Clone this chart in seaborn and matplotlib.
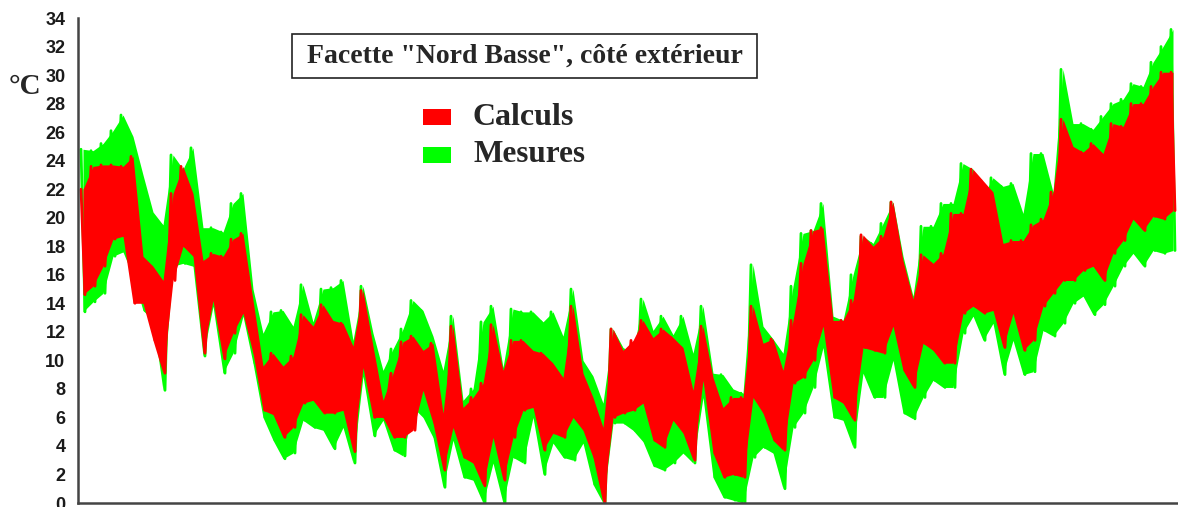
import numpy as np
import pandas as pd
import matplotlib
matplotlib.use("Agg")
import matplotlib.pyplot as plt
from matplotlib.patches import Rectangle
import seaborn as sns

# envelope of each ~3 day block (high / low)
mesures_hi = [24.8, 24.7, 25.2, 26.1, 27.2, 25.7, 23.0, 20.4, 19.5, 24.4,
              23.4, 24.9, 19.3, 19.3, 19.0, 21.0, 21.7, 15.0, 11.9, 13.4,
              13.5, 12.4, 15.3, 12.7, 15.0, 15.1, 15.6, 11.4, 15.2, 11.9,
              9.3, 10.8, 12.2, 14.2, 13.5, 11.7, 9.3, 13.1, 7.2, 8.0,
              12.7, 13.8, 9.5, 13.6, 13.4, 13.4, 12.7, 13.4, 11.7, 15.0,
              10.0, 8.9, 7.0, 12.2, 10.9, 10.5, 14.3, 12.1, 13.1, 11.8,
              13.1, 10.5, 13.8, 9.1, 9.0, 8.0, 7.7, 16.7, 12.4, 11.5,
              10.5, 15.2, 18.9, 19.1, 21.0, 13.1, 12.8, 16.0, 18.7, 18.2,
              19.6, 21.1, 17.3, 14.5, 19.4, 19.4, 21.0, 21.0, 23.8, 23.4,
              21.5, 22.8, 22.2, 22.4, 20.3, 24.5, 24.5, 21.8, 30.4, 26.6,
              26.6, 26.2, 27.1, 28.0, 28.3, 29.4, 29.2, 30.9, 32.0, 33.2]
mesures_lo = [13.4, 14.1, 14.7, 17.3, 17.6, 15.9, 13.5, 12.8, 7.9, 16.6,
              16.8, 16.6, 10.3, 13.8, 9.1, 10.5, 13.1, 9.8, 6.0, 4.4,
              3.1, 3.5, 5.8, 5.3, 5.1, 3.8, 5.3, 2.8, 8.9, 4.7,
              5.8, 3.7, 3.3, 6.7, 6.0, 4.6, 1.1, 4.4, 1.8, 1.6,
              0.0, 2.8, 0.0, 3.2, 2.8, 6.0, 2.0, 4.2, 3.2, 3.0,
              4.2, 1.3, 0.0, 5.6, 5.6, 5.1, 4.3, 2.6, 2.3, 2.8,
              3.5, 2.8, 7.4, 1.8, 0.4, 0.2, 0.0, 3.2, 3.9, 3.5,
              1.0, 5.3, 6.3, 8.1, 10.9, 6.0, 5.8, 3.9, 9.1, 7.4,
              7.4, 10.0, 6.3, 5.9, 7.4, 8.6, 8.1, 8.1, 11.9, 13.1,
              11.4, 12.6, 9.0, 11.4, 9.0, 9.2, 12.1, 11.7, 12.6, 14.0,
              14.5, 13.2, 13.9, 15.2, 16.6, 17.5, 16.6, 17.7, 17.5, 17.7]
calculs_hi = [22.0, 23.6, 23.7, 23.7, 23.6, 24.3, 17.3, 16.6, 15.6, 21.7,
              23.6, 21.7, 17.0, 17.5, 17.3, 18.5, 18.9, 14.2, 9.6, 10.5,
              9.6, 10.3, 13.2, 12.4, 13.9, 12.8, 12.6, 11.0, 14.9, 11.0,
              7.2, 9.1, 11.3, 11.7, 10.7, 11.2, 6.3, 12.4, 6.7, 7.4,
              8.4, 12.5, 9.3, 11.4, 11.4, 10.7, 10.5, 9.8, 8.8, 13.8,
              9.1, 7.4, 5.3, 12.2, 10.7, 11.4, 12.8, 11.6, 12.2, 11.6,
              10.9, 7.9, 12.4, 8.8, 6.7, 7.4, 7.4, 13.8, 11.2, 11.5,
              9.3, 12.8, 16.8, 19.1, 19.3, 12.8, 12.8, 14.2, 18.8, 18.0,
              18.7, 21.1, 17.0, 14.3, 17.4, 16.8, 17.5, 20.3, 20.3, 23.4,
              22.6, 21.8, 18.2, 18.4, 18.4, 19.5, 19.9, 21.8, 26.9, 25.0,
              24.6, 25.2, 24.5, 26.6, 26.4, 28.0, 28.0, 29.2, 30.2, 30.2]
calculs_lo = [14.6, 15.2, 16.6, 18.5, 18.7, 14.0, 14.0, 11.4, 9.1, 15.6,
              18.0, 17.3, 10.5, 14.2, 10.1, 11.9, 13.3, 10.5, 6.5, 6.2,
              4.6, 5.3, 7.0, 7.2, 6.3, 6.3, 6.5, 3.6, 9.5, 6.0,
              6.0, 4.6, 4.6, 5.1, 7.9, 5.6, 2.3, 5.3, 3.2, 2.8,
              1.2, 4.6, 1.6, 4.6, 6.5, 6.7, 3.7, 4.9, 4.6, 6.0,
              5.1, 3.2, 0.0, 6.0, 6.3, 6.5, 7.0, 4.4, 3.9, 5.8,
              4.9, 3.0, 8.6, 3.5, 1.8, 2.0, 1.8, 7.4, 6.3, 4.4,
              3.7, 8.4, 8.8, 10.0, 12.4, 7.4, 7.0, 5.8, 10.9, 10.7,
              10.5, 12.4, 9.3, 8.1, 11.2, 10.7, 9.8, 9.8, 13.3, 13.8,
              13.3, 13.5, 10.9, 13.3, 10.7, 11.4, 13.8, 14.7, 15.6, 15.6,
              16.3, 16.6, 15.6, 17.5, 18.4, 19.9, 19.1, 20.1, 19.9, 20.5]

y_ticks = list(range(0, 35, 2))
title = 'Facette "Nord Basse", côté extérieur'
series_names = ["Mesures", "Calculs"]
colors = {"Mesures": "#00ff00", "Calculs": "#ff0000"}

envelopes = {"Mesures": (mesures_hi, mesures_lo),
             "Calculs": (calculs_hi, calculs_lo)}

# band table: one row per block, centred in the block
band = pd.concat([pd.DataFrame({"t": np.arange(len(hi)) + 0.5, "hi": hi,
                                "lo": lo, "serie": name})
                  for name, (hi, lo) in envelopes.items()], ignore_index=True)

# zigzag table: up to the block high, down to the block low
zz = []
for name, (hi, lo) in envelopes.items():
    n = len(hi)
    t = np.empty(2 * n)
    v = np.empty(2 * n)
    t[0::2] = np.arange(n) + 0.3
    t[1::2] = np.arange(n) + 0.7
    v[0::2] = hi
    v[1::2] = lo
    zz.append(pd.DataFrame({"t": t, "temp": v, "serie": name}))
zz = pd.concat(zz, ignore_index=True)

sns.set_style("white")
plt.rcParams["font.family"] = ["Liberation Sans", "DejaVu Sans"]

W, H = 1178, 507
fig = plt.figure(figsize=(W / 100, H / 100), dpi=100)
ax = fig.add_axes([78 / W, 4 / H, 1 - 78 / W, (503 - 18) / H])

# measured series underneath, computed series on top
for i, name in enumerate(series_names):
    d = band[band["serie"] == name]
    ax.fill_between(d["t"], d["lo"], d["hi"], color=colors[name],
                    linewidth=0, zorder=1 + 2 * i)
    sns.lineplot(data=zz[zz["serie"] == name], x="t", y="temp",
                 color=colors[name], estimator=None, sort=False,
                 linewidth=2.0, ax=ax, zorder=2 + 2 * i)

ax.set_xlim(0, len(mesures_hi))
ax.set_ylim(0, 34)
ax.set_yticks(y_ticks)
ax.set_xticks([])
ax.set_xlabel("")
ax.set_ylabel("")
ax.tick_params(axis="y", direction="out", length=4, width=1.3, color="#444444",
               pad=5, labelsize=13, labelcolor="#1a1a1a")
for lab in ax.get_yticklabels():
    lab.set_fontweight("bold")
sns.despine(ax=ax, top=True, right=True)
for s in ["left", "bottom"]:
    ax.spines[s].set_color("#444444")
    ax.spines[s].set_linewidth(1.8)
    ax.spines[s].set_zorder(10)

serif = ["Liberation Serif", "DejaVu Serif"]

# title box
fig.add_artist(Rectangle((292 / W, 1 - 78 / H), 465 / W, 44 / H,
                         transform=fig.transFigure, fill=False,
                         edgecolor="#222222", linewidth=1.2))
fig.text(524.5 / W, 1 - 56 / H, title, ha="center", va="center",
         fontsize=20, fontweight="bold", family=serif)

# legend
legend_sizes = {"Calculs": 23, "Mesures": 22.5}
for i, name in enumerate(["Calculs", "Mesures"]):
    yc = 117 + 38 * i
    fig.add_artist(Rectangle((423 / W, 1 - (yc + 8) / H), 28 / W, 16 / H,
                             transform=fig.transFigure, color=colors[name],
                             linewidth=0))
    fig.text(473 / W, 1 - yc / H, name, ha="left", va="center",
             fontsize=legend_sizes[name], fontweight="bold", family=serif)

fig.text(25 / W, 1 - 87 / H, "°C", ha="center", va="center",
         fontsize=21, fontweight="bold", family=serif)

fig.savefig("out.png", dpi=100)
